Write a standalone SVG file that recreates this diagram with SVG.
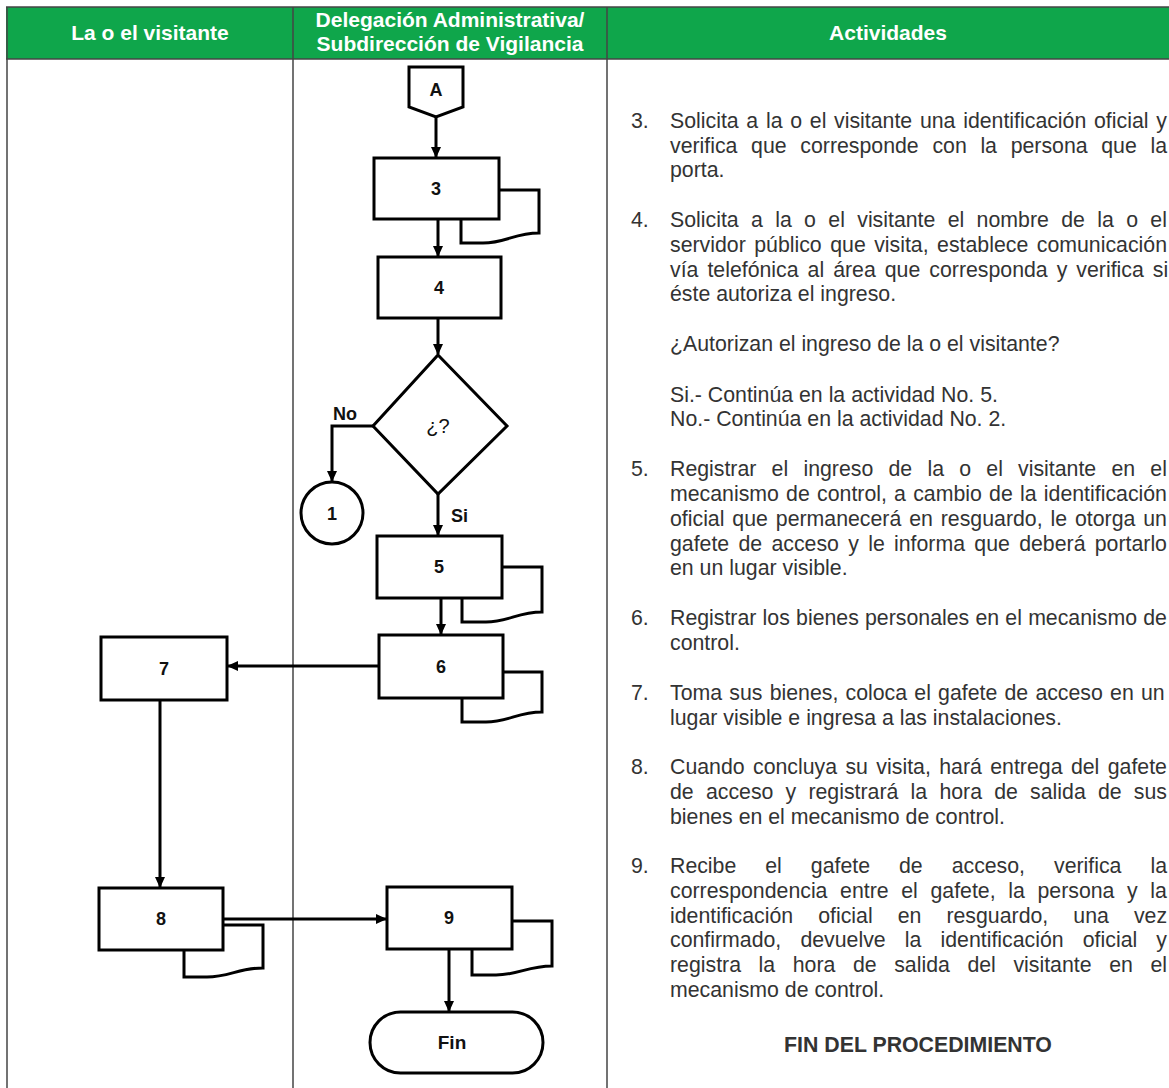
<svg xmlns="http://www.w3.org/2000/svg" width="1169" height="1088" viewBox="0 0 1169 1088">
<style>
.hdr{font-family:"Liberation Sans",Arial,sans-serif;font-weight:bold;font-size:21px;fill:#ffffff;text-anchor:middle}
.box{fill:#ffffff;stroke:#000;stroke-width:3}
.doc{fill:#ffffff;stroke:#000;stroke-width:3;stroke-linejoin:miter}
.lbl{font-family:"Liberation Sans",Arial,sans-serif;font-weight:bold;font-size:18px;fill:#111;text-anchor:middle}
.side{font-family:"Liberation Sans",Arial,sans-serif;font-weight:bold;font-size:18px;fill:#111}
.con{fill:none;stroke:#000;stroke-width:3}
.act{font-family:"Liberation Sans",Arial,sans-serif;font-size:21.3px;fill:#333333}
.grid{stroke:#444;stroke-width:1.5}
</style>
<defs>
<marker id="ah" markerWidth="11" markerHeight="10" refX="10" refY="5" orient="auto" markerUnits="userSpaceOnUse">
<path d="M0,0 L11,5 L0,10 z" fill="#000"/>
</marker>
</defs>
<rect width="1169" height="1088" fill="#ffffff"/>
<g id="table">
<rect x="6" y="7" width="1163" height="52" fill="#0fa64b"/>
<line class="grid" x1="6" y1="7" x2="1169" y2="7" stroke="#2b4a35"/>
<line class="grid" x1="6" y1="59" x2="1169" y2="59" stroke="#2b4a35"/>
<line class="grid" x1="7" y1="7" x2="7" y2="1088" stroke="#777" stroke-width="2"/>
<line class="grid" x1="293" y1="7" x2="293" y2="1088"/>
<line class="grid" x1="607" y1="7" x2="607" y2="1088"/>
<text class="hdr" x="150" y="40">La o el visitante</text>
<text class="hdr" x="450" y="27">Delegación Administrativa/</text>
<text class="hdr" x="450" y="51">Subdirección de Vigilancia</text>
<text class="hdr" x="888" y="40">Actividades</text>
</g>
<g id="connectors">
<line class="con" x1="436" y1="117" x2="436" y2="157" marker-end="url(#ah)"/>
<line class="con" x1="438" y1="219" x2="438" y2="256" marker-end="url(#ah)"/>
<line class="con" x1="438" y1="318" x2="438" y2="354" marker-end="url(#ah)"/>
<polyline class="con" points="373,426 332,426 332,481" marker-end="url(#ah)"/>
<line class="con" x1="438" y1="494" x2="438" y2="535" marker-end="url(#ah)"/>
<line class="con" x1="441" y1="598" x2="441" y2="634" marker-end="url(#ah)"/>
<line class="con" x1="379" y1="666" x2="228" y2="666" marker-end="url(#ah)"/>
<line class="con" x1="160" y1="700" x2="160" y2="887" marker-end="url(#ah)"/>
<line class="con" x1="223" y1="919" x2="386" y2="919" marker-end="url(#ah)"/>
<line class="con" x1="449" y1="949" x2="449" y2="1011" marker-end="url(#ah)"/>
<text class="side" x="333" y="420">No</text>
<text class="side" x="451" y="522">Si</text>
</g>
<g id="nodeA">
<polygon class="box" points="409,67 463,67 463,107 436,117 409,107"/>
<text class="lbl" x="436" y="96">A</text>
</g>
<g id="node3">
<path class="doc" d="M499,190 H539 V233 C515,233 505,243 483,243 H461 V219"/>
<rect class="box" x="374" y="158" width="125" height="61"/>
<text class="lbl" x="436" y="195">3</text>
</g>
<g id="node4">
<rect class="box" x="378" y="257" width="123" height="61"/>
<text class="lbl" x="439" y="294">4</text>
</g>
<g id="decision">
<polygon class="box" points="438,355 507,426 438,494 373,426"/>
<text class="lbl" x="438" y="433" style="font-weight:normal;font-size:20px">¿?</text>
</g>
<g id="connector1">
<circle class="box" cx="332" cy="513" r="31"/>
<text class="lbl" x="332" y="520">1</text>
</g>
<g id="node5">
<path class="doc" d="M502,567 H542 V612 C518,612 508,622 486,622 H462 V598"/>
<rect class="box" x="377" y="536" width="125" height="62"/>
<text class="lbl" x="439" y="573">5</text>
</g>
<g id="node6">
<path class="doc" d="M503,672 H542 V712 C518,712 508,722 486,722 H462 V698"/>
<rect class="box" x="379" y="635" width="124" height="63"/>
<text class="lbl" x="441" y="673">6</text>
</g>
<g id="node7">
<rect class="box" x="101" y="637" width="126" height="63"/>
<text class="lbl" x="164" y="675">7</text>
</g>
<g id="node8">
<path class="doc" d="M223,925 H263 V968 C239,968 229,977 207,977 H184 V950"/>
<rect class="box" x="99" y="888" width="124" height="62"/>
<text class="lbl" x="161" y="925">8</text>
</g>
<g id="node9">
<path class="doc" d="M512,921 H552 V966 C528,966 518,975 496,975 H472 V949"/>
<rect class="box" x="387" y="887" width="125" height="62"/>
<text class="lbl" x="449" y="924">9</text>
</g>
<g id="fin">
<rect class="box" x="370" y="1012" width="173" height="61" rx="30.5"/>
<text class="lbl" x="452" y="1049" style="font-size:19px">Fin</text>
</g>
<g id="activities" class="act">
<text x="631" y="128">3.</text>
<text x="670" y="128" word-spacing="1.8">Solicita a la o el visitante una identificación oficial y</text>
<text x="670" y="153" word-spacing="7.75">verifica que corresponde con la persona que la</text>
<text x="670" y="177">porta.</text>
<text x="631" y="227">4.</text>
<text x="670" y="227" word-spacing="6.43">Solicita a la o el visitante el nombre de la o el</text>
<text x="670" y="252" word-spacing="2.56">servidor público que visita, establece comunicación</text>
<text x="670" y="277" word-spacing="3.08">vía telefónica al área que corresponda y verifica si</text>
<text x="670" y="301">éste autoriza el ingreso.</text>
<text x="670" y="351">¿Autorizan el ingreso de la o el visitante?</text>
<text x="670" y="402">Si.- Continúa en la actividad No. 5.</text>
<text x="670" y="426">No.- Continúa en la actividad No. 2.</text>
<text x="631" y="476">5.</text>
<text x="670" y="476" word-spacing="9.31">Registrar el ingreso de la o el visitante en el</text>
<text x="670" y="501" word-spacing="1.32">mecanismo de control, a cambio de la identificación</text>
<text x="670" y="526" word-spacing="1.99">oficial que permanecerá en resguardo, le otorga un</text>
<text x="670" y="551" word-spacing="3.37">gafete de acceso y le informa que deberá portarlo</text>
<text x="670" y="575">en un lugar visible.</text>
<text x="631" y="625">6.</text>
<text x="670" y="625" word-spacing="0.3">Registrar los bienes personales en el mecanismo de</text>
<text x="670" y="650">control.</text>
<text x="631" y="700">7.</text>
<text x="670" y="700" word-spacing="1.29">Toma sus bienes, coloca el gafete de acceso en un</text>
<text x="670" y="725">lugar visible e ingresa a las instalaciones.</text>
<text x="631" y="774">8.</text>
<text x="670" y="774" word-spacing="2.49">Cuando concluya su visita, hará entrega del gafete</text>
<text x="670" y="799" word-spacing="6.29">de acceso y registrará la hora de salida de sus</text>
<text x="670" y="824">bienes en el mecanismo de control.</text>
<text x="631" y="873">9.</text>
<text x="670" y="873" word-spacing="23.05">Recibe el gafete de acceso, verifica la</text>
<text x="670" y="898" word-spacing="6.72">correspondencia entre el gafete, la persona y la</text>
<text x="670" y="923" word-spacing="19.14">identificación oficial en resguardo, una vez</text>
<text x="670" y="947" word-spacing="13.22">confirmado, devuelve la identificación oficial y</text>
<text x="670" y="972" word-spacing="11.66">registra la hora de salida del visitante en el</text>
<text x="670" y="997">mecanismo de control.</text>
<text x="918" y="1052" text-anchor="middle" font-weight="bold">FIN DEL PROCEDIMIENTO</text>
</g>
</svg>
